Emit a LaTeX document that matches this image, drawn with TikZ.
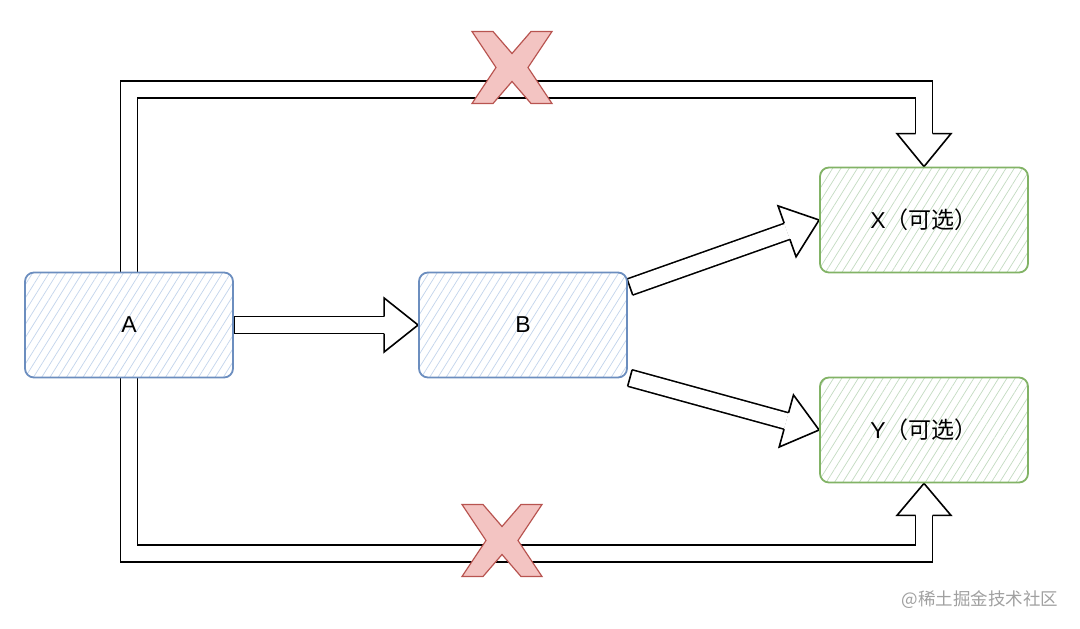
\documentclass[tikz,border=0pt]{standalone}
\usepackage{fontspec}
\setmainfont{Liberation Sans}
\newfontfamily\cjk{Noto Sans CJK SC}
\usetikzlibrary{calc,patterns.meta,backgrounds}
\definecolor{boxblue}{HTML}{6C8EBF}
\definecolor{hatchblue}{HTML}{C2D4EC}
\definecolor{boxgreen}{HTML}{82B366}
\definecolor{hatchgreen}{HTML}{C3DBC1}
\definecolor{crossfill}{HTML}{F3C4C2}
\definecolor{crossline}{HTML}{B85450}
\definecolor{markgray}{HTML}{A0A0A0}
% head of a hollow arrow: #1 base, #2 tip
\newcommand{\fathead}[2]{%
  \filldraw[headtip] ($(#1)!8.5pt!90:(#2)$) -- ($(#1)!27pt!90:(#2)$) -- (#2)
    -- ($(#1)!27pt!-90:(#2)$) -- ($(#1)!8.5pt!-90:(#2)$);}
% straight hollow arrow from #1 to #2, closed tail
\newcommand{\fatarrow}[2]{%
  \coordinate (hb) at ($(#2)!34pt!(#1)$);
  \draw[shaft] (#1) -- (hb);
  \draw[headtip] ($(#1)!8.5pt!90:(#2)$) -- ($(#1)!8.5pt!-90:(#2)$);
  \fathead{hb}{#2}}
\tikzset{crossmark/.pic={
  \filldraw[fill=crossfill,draw=crossline,line width=1.2pt,line join=miter]
  (-40,-36) -- (-19,-36) -- (0,-14) -- (19,-36) -- (40,-36) -- (16,0) -- (40,36)
  -- (19,36) -- (0,14) -- (-19,36) -- (-40,36) -- (-16,0) -- cycle;}}
\begin{document}
\begin{tikzpicture}[x=1pt,y=-1pt,line join=round,line cap=round,
  font=\fontsize{23}{28}\selectfont,
  box/.style={rectangle,rounded corners=9pt,minimum width=208pt,minimum height=105pt,
    line width=1.8pt,inner sep=0pt},
  bluebox/.style={box,draw=boxblue,preaction={fill=white},
    preaction={pattern={Lines[angle=58,distance=7pt,line width=0.7pt]},pattern color=hatchblue}},
  greenbox/.style={box,draw=boxgreen,preaction={fill=white},
    preaction={pattern={Lines[angle=58,distance=7pt,line width=0.7pt]},pattern color=hatchgreen}},
  shaft/.style={draw=black,line width=1.6pt,double=white,double distance=15.4pt,
    line cap=butt,line join=miter},
  headtip/.style={draw=black,fill=white,line width=1.6pt,line join=miter}]
\useasboundingbox (0,0) rectangle (1080,629);
%%%%%%%%%%%%%%%
\node[bluebox] (A) at (129,325) {A};
\node[bluebox] (B) at (523,325) {B};
\node[greenbox] (X) at (924,220) {X\cjk（可选）};
\node[greenbox] (Y) at (924,430) {Y\cjk（可选）};
%%%%%%%%%%%%%%%
\begin{scope}[on background layer]
\coordinate (toprail) at (0,89.5);
\coordinate (botrail) at (0,553.5);
\coordinate (xbase) at ($(X.north)+(0,-33)$);
\coordinate (ybase) at ($(Y.south)+(0,32)$);
\draw[shaft] (A.north) -- (A.north |- toprail) -| (xbase);
\fathead{xbase}{X.north}
\draw[shaft] (A.south) -- (A.south |- botrail) -| (ybase);
\fathead{ybase}{Y.south}
%%%%%%%%%%%%%%%
\fatarrow{A.east}{B.west}
\coordinate (bx) at ($(B.east)+(2,-38)$);
\coordinate (by) at ($(B.east)+(2,53)$);
\fatarrow{bx}{X.west}
\fatarrow{by}{Y.west}
\end{scope}
%%%%%%%%%%%%%%%
\pic at (512,67.5) {crossmark};
\pic at (502,540.5) {crossmark};
%%%%%%%%%%%%%%%
\node[anchor=east,text=markgray,font=\cjk\fontsize{17.5}{20}\selectfont] (mark) at (1062,600) {@稀土掘金技术社区};
\end{tikzpicture}
\end{document}
